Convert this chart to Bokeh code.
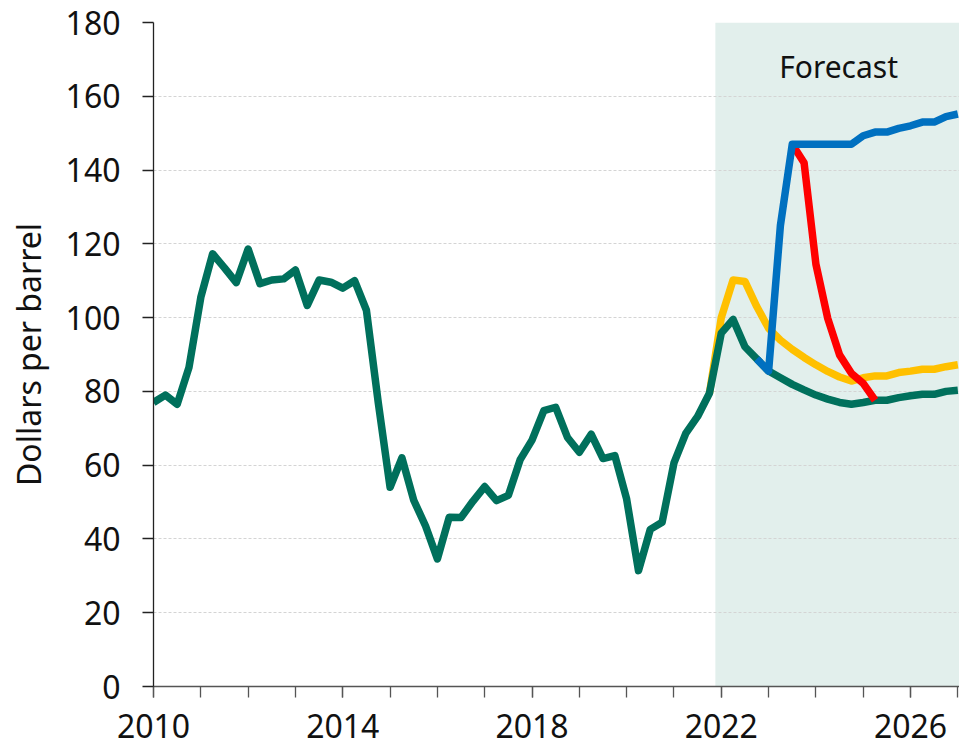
from bokeh.plotting import figure
from bokeh.models import Range1d, FixedTicker, BoxAnnotation, Label
from bokeh.embed import file_html
from bokeh.resources import INLINE

# ---- data (quarterly, starting 2010 Q1) ----
start_year = 2010
outturn_central = [77, 79, 76.5, 86.5, 105.5, 117.3, 113.5, 109.5, 118.6, 109.2,
                   110.2, 110.5, 112.9, 103.3, 110.2, 109.6, 108, 110, 102, 77,
                   54, 62, 50.5, 43.5, 34.6, 45.9, 45.8, 50.2, 54.2, 50.4,
                   51.8, 61.5, 66.8, 74.8, 75.7, 67.5, 63.5, 68.4, 61.8, 62.6,
                   50.8, 31.4, 42.6, 44.5, 60.6, 68.6, 73.2, 79.5, 95.8, 99.5,
                   92.1, 88.8, 85.5, 83.7, 81.9, 80.4, 79, 77.9, 77, 76.5,
                   77, 77.6, 77.6, 78.3, 78.8, 79.2, 79.2, 80, 80.3]
yellow_start = 47
yellow_series = [79.5, 100, 110.2, 109.8, 103, 97.1, 93.9, 91.4, 89.2, 87.2, 85.4,
                 83.9, 82.8, 83.7, 84.2, 84.2, 85.1, 85.5, 86, 86, 86.7, 87.2]
blue_start = 51
blue_series = [88.8, 85.5, 125, 147, 147, 147, 147, 147, 147, 149.3, 150.3,
               150.3, 151.3, 152, 153, 153, 154.5, 155.2]
red_start = 54
red_series = [147, 142, 114.5, 99.8, 89.9, 84.9, 82.2, 77.6]

forecast_start = 2021.875
x_label_years = [2010, 2014, 2018, 2022, 2026]
x_minor_years = list(range(2010, 2028))
y_ticks = [0, 20, 40, 60, 80, 100, 120, 140, 160, 180]

def xs(offset, n):
    return [start_year + (offset + i) / 4 for i in range(n)]

FONT = "Noto Sans"

p = figure(width=959, height=747, output_backend="svg", toolbar_location=None,
           x_range=Range1d(2010, 2027.035), y_range=Range1d(0, 180),
           min_border_left=153, min_border_right=0, min_border_top=22,
           min_border_bottom=61)
p.outline_line_color = None
p.background_fill_color = "white"
p.border_fill_color = "white"

shade = BoxAnnotation(left=forecast_start, fill_color="#e2efec", fill_alpha=1.0,
                      line_color=None, level="image")
p.add_layout(shade)

p.xgrid.grid_line_color = None
p.ygrid.grid_line_color = "#d4d4d4"
p.ygrid.grid_line_dash = "3 2"
p.ygrid.grid_line_width = 1
p.ygrid.level = "underlay"

lw = 7.5
p.line(xs(yellow_start, len(yellow_series)), yellow_series, line_color="#ffc000",
       line_width=lw, line_join="round")
p.line(xs(0, len(outturn_central)), outturn_central, line_color="#00705c",
       line_width=lw, line_join="round")
p.line(xs(red_start, len(red_series)), red_series, line_color="#ff0000",
       line_width=lw, line_join="round")
p.line(xs(blue_start, len(blue_series)), blue_series, line_color="#0070c0",
       line_width=lw, line_join="round")

p.add_layout(Label(x=2024.48, y=168.2, text="Forecast", text_align="center",
                   text_baseline="middle", text_font=FONT, text_font_size="30px",
                   text_color="#111111"))

# x axis
p.xaxis.ticker = FixedTicker(ticks=x_label_years, minor_ticks=x_minor_years)
p.xaxis.axis_line_color = "#555555"
p.xaxis.axis_line_width = 1.3
p.xaxis.major_tick_line_color = "#555555"
p.xaxis.minor_tick_line_color = "#555555"
p.xaxis.major_tick_out = 11
p.xaxis.major_tick_in = 0
p.xaxis.minor_tick_out = 11
p.xaxis.minor_tick_in = 0
p.xaxis.major_tick_line_width = 1.3
p.xaxis.minor_tick_line_width = 1.3
p.xaxis.major_label_standoff = 16
p.xaxis.major_label_text_font = FONT
p.xaxis.major_label_text_font_size = "32px"
p.xaxis.major_label_text_color = "#111111"

# y axis
p.yaxis.ticker = FixedTicker(ticks=y_ticks, minor_ticks=[])
p.yaxis.axis_line_color = "#222222"
p.yaxis.axis_line_width = 1.3
p.yaxis.major_tick_line_color = "#222222"
p.yaxis.major_tick_line_width = 1.3
p.yaxis.major_tick_out = 11
p.yaxis.major_tick_in = 0
p.yaxis.minor_tick_line_color = None
p.yaxis.major_label_standoff = 22
p.yaxis.major_label_text_font = FONT
p.yaxis.major_label_text_font_size = "32px"
p.yaxis.major_label_text_color = "#111111"
p.yaxis.axis_label = "Dollars per barrel"
p.yaxis.axis_label_text_font = FONT
p.yaxis.axis_label_text_font_size = "32px"
p.yaxis.axis_label_text_font_style = "normal"
p.yaxis.axis_label_text_color = "#111111"
p.yaxis.axis_label_standoff = 13

open("out.html", "w").write(file_html(p, INLINE))
